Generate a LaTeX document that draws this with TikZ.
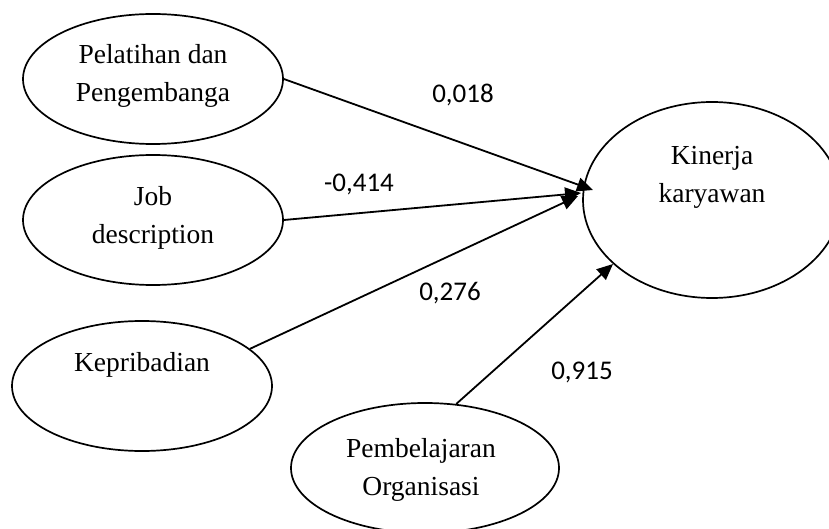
\documentclass[tikz,border=0pt]{standalone}
\usepackage{fontspec}
\setmainfont{Liberation Serif}
\newfontfamily\numfont{Carlito}
\usetikzlibrary{shapes.geometric,arrows.meta}
\begin{document}
\begin{tikzpicture}[x=1pt,y=-1pt,
  var/.style={draw,line width=1.7pt,ellipse,inner sep=0pt,
    minimum width=260pt,minimum height=130pt},
  vartext/.style={align=center,inner sep=0pt,
    font=\fontsize{27.5}{38}\selectfont},
  coef/.style={inner sep=0pt,font=\numfont\fontsize{27}{32}\selectfont},
  path/.style={line width=1.8pt,-{Triangle[length=16pt,width=14pt]}}]
\useasboundingbox (0,0) rectangle (829,529);

% latent variables
\node[var] (pel) at (153,79) {};
\node[var] (job) at (153,220) {};
\node[var] (kep) at (142,386) {};
\node[var,minimum width=268pt] (pem) at (425,468) {};
\node[var,minimum width=258pt,minimum height=196pt] (kin) at (712,200) {};

\node[vartext] (pelt) at (153,76) {Pelatihan dan\\Pengembanga};
\node[vartext] (jobt) at (153,218) {Job\\description};
\node[vartext] (kept) at (142,365) {Kepribadian};
\node[vartext] (pemt) at (421,470) {Pembelajaran\\Organisasi};
\node[vartext] (kint) at (712,177) {Kinerja\\karyawan};

% arrow tips at the dependent variable
\coordinate (t1) at (593,190);
\coordinate (t2) at (581,193);
\coordinate (t3) at (578,196);
\coordinate (t4) at (613,264);

\draw[path] (pel.east) -- (t1);
\draw[path] (job.east) -- (t2);
\draw[path] (kep.19) -- (t3);
\draw[path] (pem.64) -- (t4);

% path coefficients
\node[coef] (c1) at (463,95) {0,018};
\node[coef] (c2) at (359,184) {-0,414};
\node[coef] (c3) at (450,293) {0,276};
\node[coef] (c4) at (582,372) {0,915};
\end{tikzpicture}
\end{document}
